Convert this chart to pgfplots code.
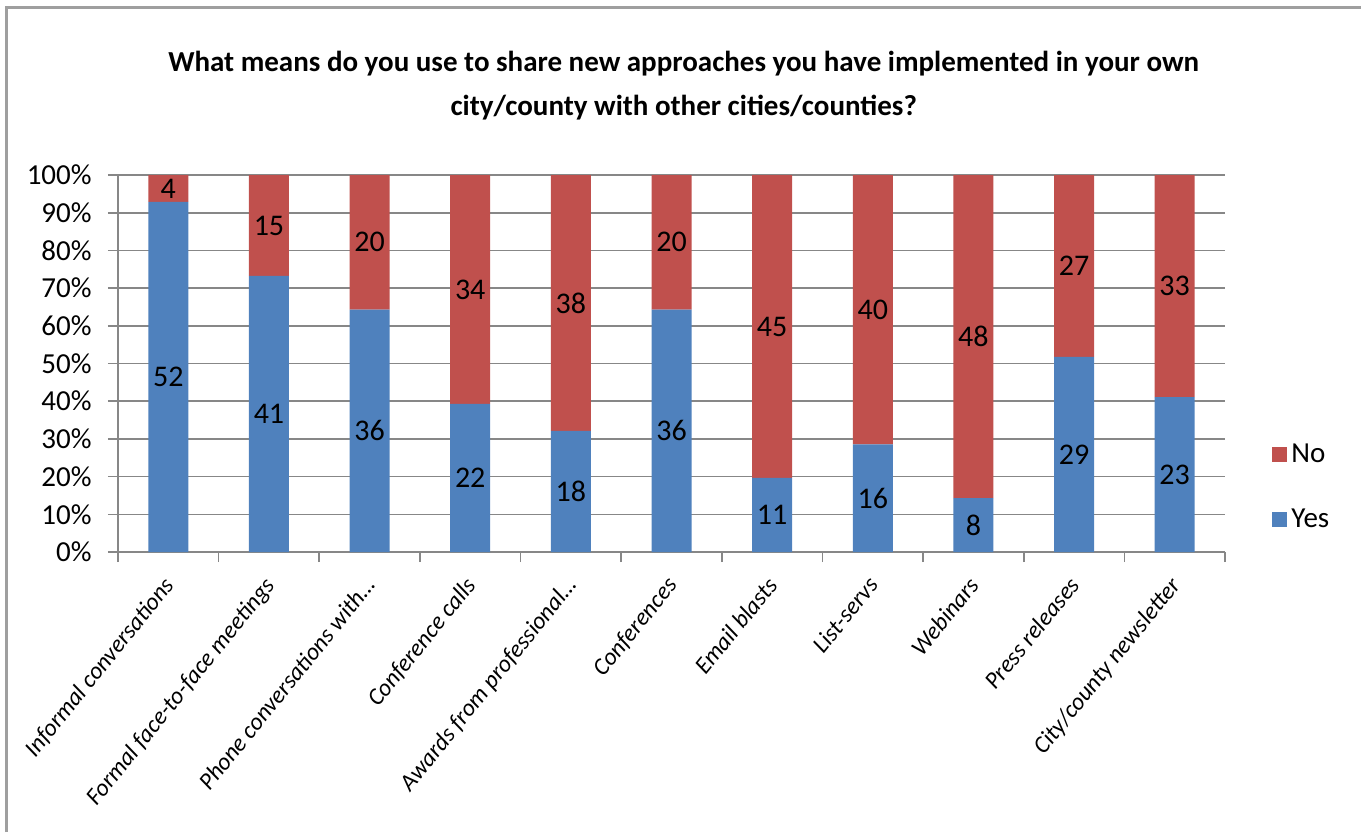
\documentclass[border=0pt]{standalone}
\usepackage{pgfplots}
\pgfplotsset{compat=1.18}
\usepackage{pgfplotstable}
\usepackage{fontspec}
\setmainfont{Carlito}
\definecolor{yesblue}{HTML}{4F81BD}
\definecolor{nored}{HTML}{C0504D}
\definecolor{gridgray}{HTML}{878787}

\pgfplotstableread{
x yes no
0 52 4
1 41 15
2 36 20
3 22 34
4 18 38
5 36 20
6 11 45
7 16 40
8 8 48
9 29 27
10 23 33
}\data

\begin{document}
\begin{tikzpicture}
\useasboundingbox (0,0) rectangle (680.5pt,416pt);
\draw[gray!75, line width=1.5pt] (3pt,0) -- (3pt,412pt) -- (680.5pt,412pt);
\pgfplotsset{
  mybase/.style={
    at={(59pt,140pt)}, anchor=south west,
    scale only axis, width=553.5pt, height=188.5pt,
    xmin=-0.5, xmax=10.5, ymin=0, ymax=100,
  }
}
\begin{axis}[mybase,
  ybar stacked, bar width=20pt,
  axis x line*=bottom, axis y line*=left,
  axis line style={gridgray, line width=0.8pt},
  ymajorgrids, major grid style={gridgray, line width=0.8pt},
  tick style={gridgray, line width=0.8pt},
  tick align=outside, major tick length=5pt, minor tick length=5pt,
  ytick={0,10,...,100},
  yticklabels={0\%,10\%,20\%,30\%,40\%,50\%,60\%,70\%,80\%,90\%,100\%},
  yticklabel style={font=\fontsize{14.5}{16}\selectfont, inner sep=0pt, xshift=-8pt},
  xtick={0,...,10},
  xticklabels={Informal conversations, Formal face-to-face meetings, Phone conversations with\dots, Conference calls, Awards from professional\dots, Conferences, Email blasts, List-servs, Webinars, Press releases, City/county newsletter},
  major x tick style={draw=none},
  minor xtick={-0.5,0.5,...,10.5},
  xticklabel style={rotate=51, anchor=north east, font=\itshape\fontsize{12}{14}\selectfont, inner sep=0pt, xshift=-7pt, yshift=-1.5pt},
  title={What means do you use to share new approaches you have implemented in your own\\city/county with other cities/counties?},
  title style={at={(axis description cs:0.511,1.204)}, anchor=center, align=center, font=\bfseries\fontsize{14.5}{22}\selectfont},
  reverse legend,
  legend style={draw=none, at={(axis description cs:1.0425,0.172)}, anchor=west, font=\fontsize{14.5}{16}\selectfont, row sep=18pt, inner sep=0pt, legend cell align=left},
  legend image code/.code={\fill[#1,draw=none] (0pt,-3.75pt) rectangle (7.5pt,3.75pt);},
]
\addplot[fill=yesblue, draw=none] table[x=x, y expr={100*\thisrow{yes}/(\thisrow{yes}+\thisrow{no})}] {\data};
\addlegendentry{Yes}
\addplot[fill=nored, draw=none] table[x=x, y expr={100*\thisrow{no}/(\thisrow{yes}+\thisrow{no})}] {\data};
\addlegendentry{No}
\end{axis}
\begin{axis}[mybase, hide axis, clip=false]
\addplot[draw=none, mark=none, nodes near coords, point meta=explicit symbolic,
  every node near coord/.style={anchor=center, inner sep=0pt, font=\fontsize{15}{17}\selectfont, black}]
  table[x=x, y expr={50*\thisrow{yes}/(\thisrow{yes}+\thisrow{no})}, meta=yes] {\data};
\addplot[draw=none, mark=none, nodes near coords, point meta=explicit symbolic,
  every node near coord/.style={anchor=center, inner sep=0pt, font=\fontsize{15}{17}\selectfont, black}]
  table[x=x, y expr={100*(\thisrow{yes}+0.5*\thisrow{no})/(\thisrow{yes}+\thisrow{no})}, meta=no] {\data};
\end{axis}
\end{tikzpicture}
\end{document}
